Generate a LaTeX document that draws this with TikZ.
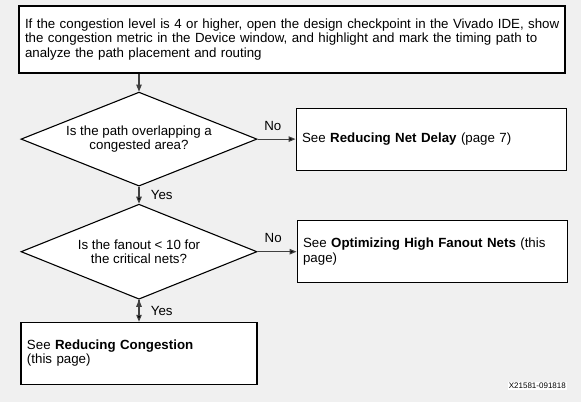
\documentclass[tikz,border=0pt]{standalone}
\usepackage{fontspec}
\setmainfont{Liberation Sans}
\usetikzlibrary{arrows.meta}
\usetikzlibrary{shapes.geometric}
\usetikzlibrary{positioning}

\definecolor{pagegray}{RGB}{240,240,240}
\definecolor{arrowgray}{RGB}{64,64,64}

\tikzset{
  box/.style={draw=black, fill=white, line width=1.1pt, align=left,
    inner xsep=6pt, minimum height=62pt, text width=224pt},
  decision/.style={diamond, aspect=2.5, draw=black, fill=white, line width=1.1pt,
    align=center, inner sep=0pt, minimum width=236pt, minimum height=94pt},
  flow/.style={draw=arrowgray, line width=1.1pt,
    -{Triangle[length=7pt,width=5.5pt]}},
  answer/.style={text=black}
}

\begin{document}
\begin{tikzpicture}[x=1pt, y=-1pt,
  every node/.style={font=\fontsize{13.3}{14.5}\selectfont}]

  \fill[pagegray] (0,0) rectangle (581,402);
  \useasboundingbox (0,0) rectangle (581,402);

  \node[box, text width=534pt, minimum height=67pt] (check) at (292,39.5)
    {\mbox{If the congestion level is 4 or higher, open the design checkpoint in the Vivado IDE, show}\\
     \mbox{the congestion metric in the Device window, and highlight and mark the timing path to}\\
     analyze the path placement and routing};
  \node[decision] (overlap) [below=18pt of check, xshift=-153pt]
    {Is the path overlapping a\\ congested area?};
  \node[box, text width=258pt] (delay) [right=38pt of overlap]
    {See \textbf{Reducing Net Delay} (page 7)};
  \node[decision, minimum height=95pt] (fanout) [below=17pt of overlap]
    {Is the fanout < 10 for\\ the critical nets?};
  \node[box, text width=258pt] (highfanout) [right=39pt of fanout]
    {See \textbf{Optimizing High Fanout Nets} (this\\ page)};
  \node[box] (congestion) [below=22pt of fanout]
    {See \textbf{Reducing Congestion}\\ (this page)};

  \node[fill=white, inner sep=1pt, anchor=east,
    font=\fontsize{8}{9}\selectfont] (figid) at (567,386) {X21581-091818};

  \draw[flow] (check.south -| overlap.north) -- (overlap.north);
  \path[flow]
    (overlap.east) edge node[answer, above=5pt, pos=0.4] {No} (delay.west)
    (overlap.south) edge node[answer, right=8pt] {Yes} (fanout.north)
    (fanout.east) edge node[answer, above=5pt, pos=0.4] {No} (highfanout.west)
    (fanout.south) edge node[answer, right=8pt] {Yes} (congestion.north);
\end{tikzpicture}
\end{document}
